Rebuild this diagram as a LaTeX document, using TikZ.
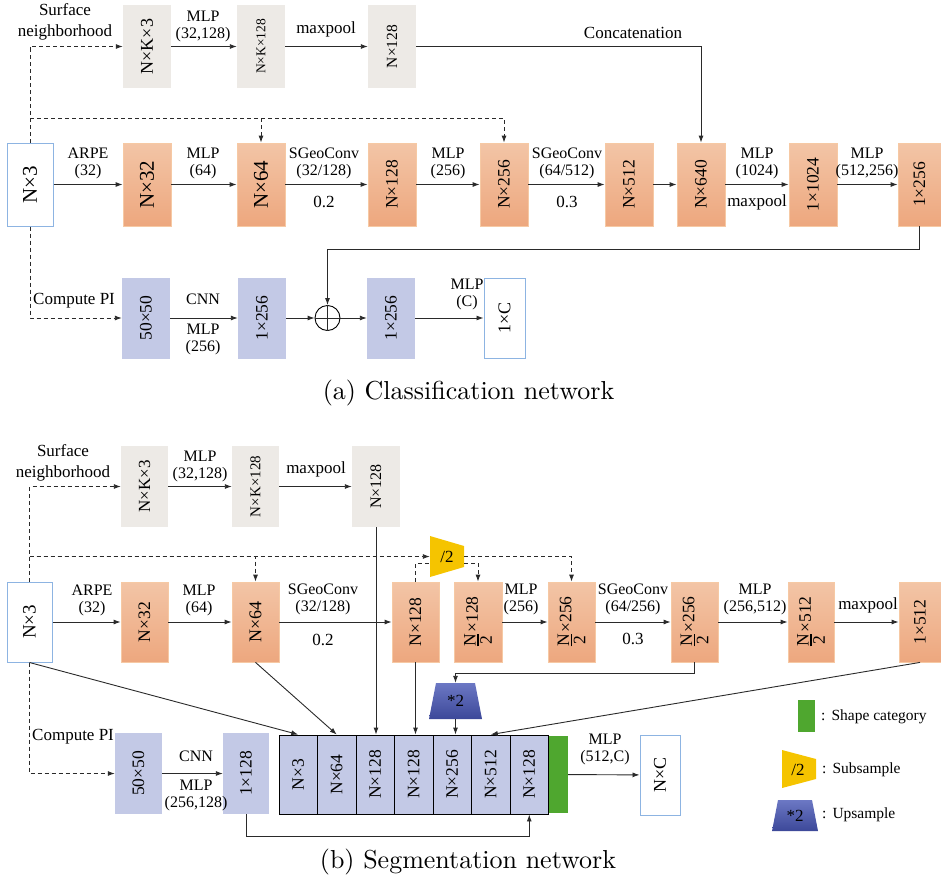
\documentclass[tikz,border=0pt]{standalone}
\usepackage{fontspec}
\newfontfamily\tms{Liberation Serif}
\newfontfamily\capf{lmroman10-regular.otf}
\usetikzlibrary{arrows.meta,calc}
\definecolor{grayF}{HTML}{EDEAE6}
\definecolor{orT}{HTML}{F3C5A6}
\definecolor{orB}{HTML}{EDA77E}
\definecolor{orD}{HTML}{F6C9A4}
\definecolor{bluF}{HTML}{C3C9E6}
\definecolor{wbd}{HTML}{8DB4E2}
\definecolor{yel}{HTML}{F5C400}
\definecolor{upT}{HTML}{6C78C4}
\definecolor{upB}{HTML}{3C4899}
\definecolor{grn}{HTML}{4FA72F}
\definecolor{lnc}{HTML}{2A2A2A}
\newcommand\myfs[1]{\fontsize{#1}{#1}\selectfont}
\newcommand\hN{${\hbox{\tms N}\above1.6pt\hbox{\tms 2}}$}
\tikzset{
 bx/.style={minimum width=48pt, minimum height=83pt, inner sep=0pt, font=\tms\myfs{17.5}},
 gbox/.style={bx, fill=grayF},
 obox/.style={bx, top color=orT, bottom color=orB, draw=orD, line width=0.8pt},
 bbox/.style={bx, fill=bluF, minimum height=81pt},
 wbox/.style={bx, fill=white, draw=wbd, line width=1pt},
 cbox/.style={bx, fill=bluF, draw=black, line width=0.9pt, minimum width=38.5pt, minimum height=79pt},
 lab/.style={font=\tms\fontsize{16}{17}\selectfont, align=center, inner sep=0pt},
 big/.style={font=\tms\fontsize{17}{21}\selectfont, align=center, inner sep=0pt},
 ar/.style={draw=lnc, line width=0.9pt, -{Latex[length=7pt,width=5pt]}},
 sline/.style={draw=lnc, line width=0.9pt},
 dar/.style={ar, dash pattern=on 4pt off 3pt},
 dline/.style={sline, dash pattern=on 4pt off 3pt},
 capt/.style={inner sep=0pt, font=\capf\fontsize{26}{30}\selectfont},
}
\begin{document}
\begin{tikzpicture}[x=1pt,y=-1pt]
\useasboundingbox (0,0) rectangle (941,883);
% ================= (a) =================
\node[gbox] (aK3) at (147,46.5) {\myfs{18}\rotatebox{90}{N×K×3}};
\node[gbox] (aK128) at (261,46.5) {\myfs{13.5}\rotatebox{90}{N×K×128}};
\node[gbox] (aG128) at (392,46.5) {\myfs{15.5}\rotatebox{90}{N×128}};

\node[wbox, minimum width=46pt] (aN3) at (30,184.5) {\myfs{21}\rotatebox{90}{N×3}};
\node[obox] (aN32) at (147,184.5) {\myfs{21}\rotatebox{90}{N×32}};
\node[obox] (aN64) at (261,184.5) {\myfs{21}\rotatebox{90}{N×64}};
\node[obox] (aN128) at (392,184.5) {\rotatebox{90}{N×128}};
\node[obox] (aN256) at (504,184.5) {\rotatebox{90}{N×256}};
\node[obox] (aN512) at (629,184.5) {\rotatebox{90}{N×512}};
\node[obox] (aN640) at (701,184.5) {\rotatebox{90}{N×640}};
\node[obox] (a1024) at (813,184.5) {\rotatebox{90}{1×1024}};
\node[obox, minimum width=43pt] (a256) at (919.5,184.5) {\rotatebox{90}{1×256}};

\node[bbox] (aPI) at (146,318) {\rotatebox{90}{50×50}};
\node[bbox] (aF1) at (262,318) {\rotatebox{90}{1×256}};
\node[circle, draw=black, line width=0.9pt, minimum size=25pt, inner sep=0pt] (aPlus) at (327.5,318) {};
\draw[sline] (aPlus.north) -- (aPlus.south) (aPlus.west) -- (aPlus.east);
\node[bbox] (aF2) at (391,318) {\rotatebox{90}{1×256}};
\node[wbox, minimum width=41pt, minimum height=80pt] (a1C) at (504.5,318) {\myfs{18}\rotatebox{90}{1×C}};

% labels (a)
\node[big] (aSN) at (65,22) {Surface\\neighborhood};
\node[lab] (aL1) at (203,26) {MLP\\(32,128)};
\node[big] (aL2) at (326,29) {maxpool};
\node[big] (aL3) at (633,33) {Concatenation};
\node[lab] (aL4) at (88,163.5) {ARPE\\(32)};
\node[lab] (aL5) at (203,163.5) {MLP\\(64)};
\node[lab] (aL6) at (324,163.5) {SGeoConv\\(32/128)};
\node[lab] (aL7) at (448,163.5) {MLP\\(256)};
\node[lab] (aL8) at (567,163.5) {SGeoConv\\(64/512)};
\node[lab] (aL9) at (757,163.5) {MLP\\(1024)};
\node[lab] (aL10) at (867,163.5) {MLP\\(512,256)};
\node[big] (aL11) at (324,202) {0.2};
\node[big] (aL12) at (567,202) {0.3};
\node[big] (aL13) at (757,202) {maxpool};
\node[big, anchor=west] (aL14) at (33,301) {Compute PI};
\node[lab] (aL15) at (203,299) {CNN};
\node[lab] (aL16) at (203,339.5) {MLP\\(256)};
\node[lab] (aL17) at (467,294) {MLP\\(C)};
\node[capt] (capA) at (468.5,393) {(a)\ Classification network};

% connectors (a)
\coordinate (ad) at (30,118);
\draw[dar] (aN3.north) |- (aK3.west);
\draw[dar] (ad) -| (aN64.north);
\draw[dar] (ad) -| (aN256.north);
\draw[dar] (aN3.south) |- (aPI.west);
\draw[ar] (aK3) -- (aK128);
\draw[ar] (aK128) -- (aG128);
\draw[ar] (aG128.east) -| (aN640.north);
\draw[ar] (aN3) -- (aN32);
\draw[ar] (aN32) -- (aN64);
\draw[ar] (aN64) -- (aN128);
\draw[ar] (aN128) -- (aN256);
\draw[ar] (aN256) -- (aN512);
\draw[ar] (aN512) -- (aN640);
\draw[ar] (aN640) -- (a1024);
\draw[ar] (a1024) -- (a256);
\draw[ar] (a256.south) -- ++(0,23.5) -| (aPlus.north);
\draw[ar] (aPI) -- (aF1);
\draw[ar] (aF1) -- (aPlus);
\draw[ar] (aPlus) -- (aF2);
\draw[ar] (aF2) -- (a1C);

% ================= (b) =================
\node[gbox, minimum width=47pt, minimum height=81pt] (bK3) at (144.5,486.5) {\myfs{17}\rotatebox{90}{N×K×3}};
\node[gbox, minimum width=47pt, minimum height=81pt] (bK128) at (255.5,486.5) {\myfs{15}\rotatebox{90}{N×K×128}};
\node[gbox, minimum height=81pt] (bG128) at (376,486.5) {\myfs{16}\rotatebox{90}{N×128}};

\node[wbox, minimum width=45pt, minimum height=80pt] (bN3) at (29.5,622) {\myfs{19}\rotatebox{90}{N×3}};
\node[obox, minimum width=47pt, minimum height=80pt] (bN32) at (144.5,622) {\rotatebox{90}{N×32}};
\node[obox, minimum width=47pt, minimum height=80pt] (bN64) at (255.5,622) {\myfs{18}\rotatebox{90}{N×64}};
\node[obox, minimum width=47pt, minimum height=80pt] (bN128) at (415.5,622) {\rotatebox{90}{N×128}};
\node[obox, minimum height=80pt] (bH128) at (478,622) {\rotatebox{90}{\hN\raisebox{0.55ex}{×128}}};
\node[obox, minimum width=47pt, minimum height=80pt] (bH256) at (571.5,622) {\rotatebox{90}{\hN\raisebox{0.55ex}{×256}}};
\node[obox, minimum width=47pt, minimum height=80pt] (bH256b) at (694.5,622) {\rotatebox{90}{\hN\raisebox{0.55ex}{×256}}};
\node[obox, minimum width=46pt, minimum height=80pt] (bH512) at (811,622) {\rotatebox{90}{\hN\raisebox{0.55ex}{×512}}};
\node[obox, minimum width=42pt, minimum height=80pt] (b1512) at (920,622) {\rotatebox{90}{1×512}};

% subsample / upsample
\fill[yel] (430,536) -- (464,546) -- (464,567) -- (430,577) -- cycle;
\node[minimum width=34pt, minimum height=41pt, inner sep=0pt, font=\tms\myfs{17}] (sub) at (447,556.5) {/2};
\shade[top color=upT, bottom color=upB] (436,683) -- (475,683) -- (482,719) -- (429,719) -- cycle;
\node[minimum width=53pt, minimum height=36pt, inner sep=0pt, font=\tms\myfs{17}] (up) at (455.5,701) {*2};

% concatenation block
\node[cbox] (c1) at (298.25,774.5) {\rotatebox{90}{N×3}};
\node[cbox] (c2) at (336.75,774.5) {\rotatebox{90}{N×64}};
\node[cbox] (c3) at (375.25,774.5) {\rotatebox{90}{N×128}};
\node[cbox] (c4) at (413.75,774.5) {\rotatebox{90}{N×128}};
\node[cbox] (c5) at (452.25,774.5) {\rotatebox{90}{N×256}};
\node[cbox] (c6) at (490.75,774.5) {\rotatebox{90}{N×512}};
\node[cbox] (c7) at (529.25,774.5) {\rotatebox{90}{N×128}};
\node[fill=grn, minimum width=19pt, minimum height=77pt, inner sep=0pt] (gS) at (558.5,774.5) {};

\node[bbox, minimum width=47pt] (bPI) at (138.5,773.5) {\rotatebox{90}{50×50}};
\node[bbox, minimum width=46pt] (b1128) at (246,773.5) {\rotatebox{90}{1×128}};
\node[wbox, minimum width=40pt, minimum height=80pt] (bNC) at (660,775) {\myfs{18}\rotatebox{90}{N×C}};

% labels (b)
\node[big] (bSN) at (63,463) {Surface\\neighborhood};
\node[lab] (bL1) at (200,466) {MLP\\(32,128)};
\node[big] (bL2) at (316,469) {maxpool};
\node[lab] (bL3) at (92,600.5) {ARPE\\(32)};
\node[lab] (bL4) at (199,600.5) {MLP\\(64)};
\node[lab] (bL5) at (323,599.5) {SGeoConv\\(32/128)};
\node[big] (bL6) at (323,640) {0.2};
\node[lab] (bL7) at (521,599) {MLP\\(256)};
\node[lab] (bL8) at (633,599) {SGeoConv\\(64/256)};
\node[big] (bL9) at (633,639) {0.3};
\node[lab] (bL10) at (755,599) {MLP\\(256,512)};
\node[big] (bL11) at (868,605) {maxpool};
\node[big, anchor=west] (bL12) at (32,737) {Compute PI};
\node[lab] (bL13) at (196,756) {CNN};
\node[lab] (bL14) at (196,795.5) {MLP\\(256,128)};
\node[lab] (bL15) at (605,749.5) {MLP\\(512,C)};
\node[capt] (capB) at (468,862) {(b)\ Segmentation network};

% connectors (b)
\coordinate (bd) at (29.5,556.5);
\draw[dar] (bN3.north) |- (bK3.west);
\draw[dar] (bd) -| (bN64.north);
\draw[dar] (bd) -- (sub.west);
\draw[dline] (bN128.north) |- ($(sub.west)+(0,6.5)$);
\draw[dar] (sub.east) -| (bH256.north);
\draw[dar] ($(sub.east)+(0,6.5)$) -| (bH128.north);
\draw[dar] (bN3.south) |- (bPI.west);
\draw[ar] (bK3) -- (bK128);
\draw[ar] (bK128) -- (bG128);
\draw[ar] (bN3) -- (bN32);
\draw[ar] (bN32) -- (bN64);
\draw[ar] (bN64) -- (bN128);
\draw[ar] (bH128) -- (bH256);
\draw[ar] (bH256) -- (bH256b);
\draw[ar] (bH256b) -- (bH512);
\draw[ar] (bH512) -- (b1512);
\draw[ar] (bN3.south) -- (c1.north);
\draw[ar] (bN64.south) -- (c2.north);
\draw[ar] (bG128.south) -- (bG128.south |- c3.north);
\draw[ar] (bN128.south) -- (bN128.south |- c4.north);
\draw[ar] (bH256b.south) -- ++(0,11) -| (up.north);
\draw[ar] (up.south) -- (up.south |- c5.north);
\draw[ar] (b1512.south) -- (c6.north);
\draw[ar] (b1128.south) -- ++(0,22) -| (c7.south);
\draw[ar] (bPI) -- (b1128);
\draw[ar] (gS) -- (bNC);

% legend
\node[fill=grn, minimum width=17pt, minimum height=32pt, inner sep=0pt] (lgG) at (806.5,716) {};
\fill[yel] (782,750) -- (816,759) -- (816,779) -- (782,788) -- cycle;
\node[inner sep=0pt, font=\tms\myfs{17}] (lgS) at (798,770) {/2};
\shade[top color=upT, bottom color=upB] (778,800) -- (812,800) -- (818,831) -- (772,831) -- cycle;
\node[inner sep=0pt, font=\tms\myfs{17}] (lgU) at (795,815.5) {*2};
\node[big, anchor=west, font=\tms\myfs{15.5}] (lgT1) at (821,717) {:\hspace{6pt}Shape category};
\node[big, anchor=west, font=\tms\myfs{15.5}] (lgT2) at (822,770) {:\hspace{6pt}Subsample};
\node[big, anchor=west, font=\tms\myfs{15.5}] (lgT3) at (822,815) {:\hspace{6pt}Upsample};
\end{tikzpicture}
\end{document}
